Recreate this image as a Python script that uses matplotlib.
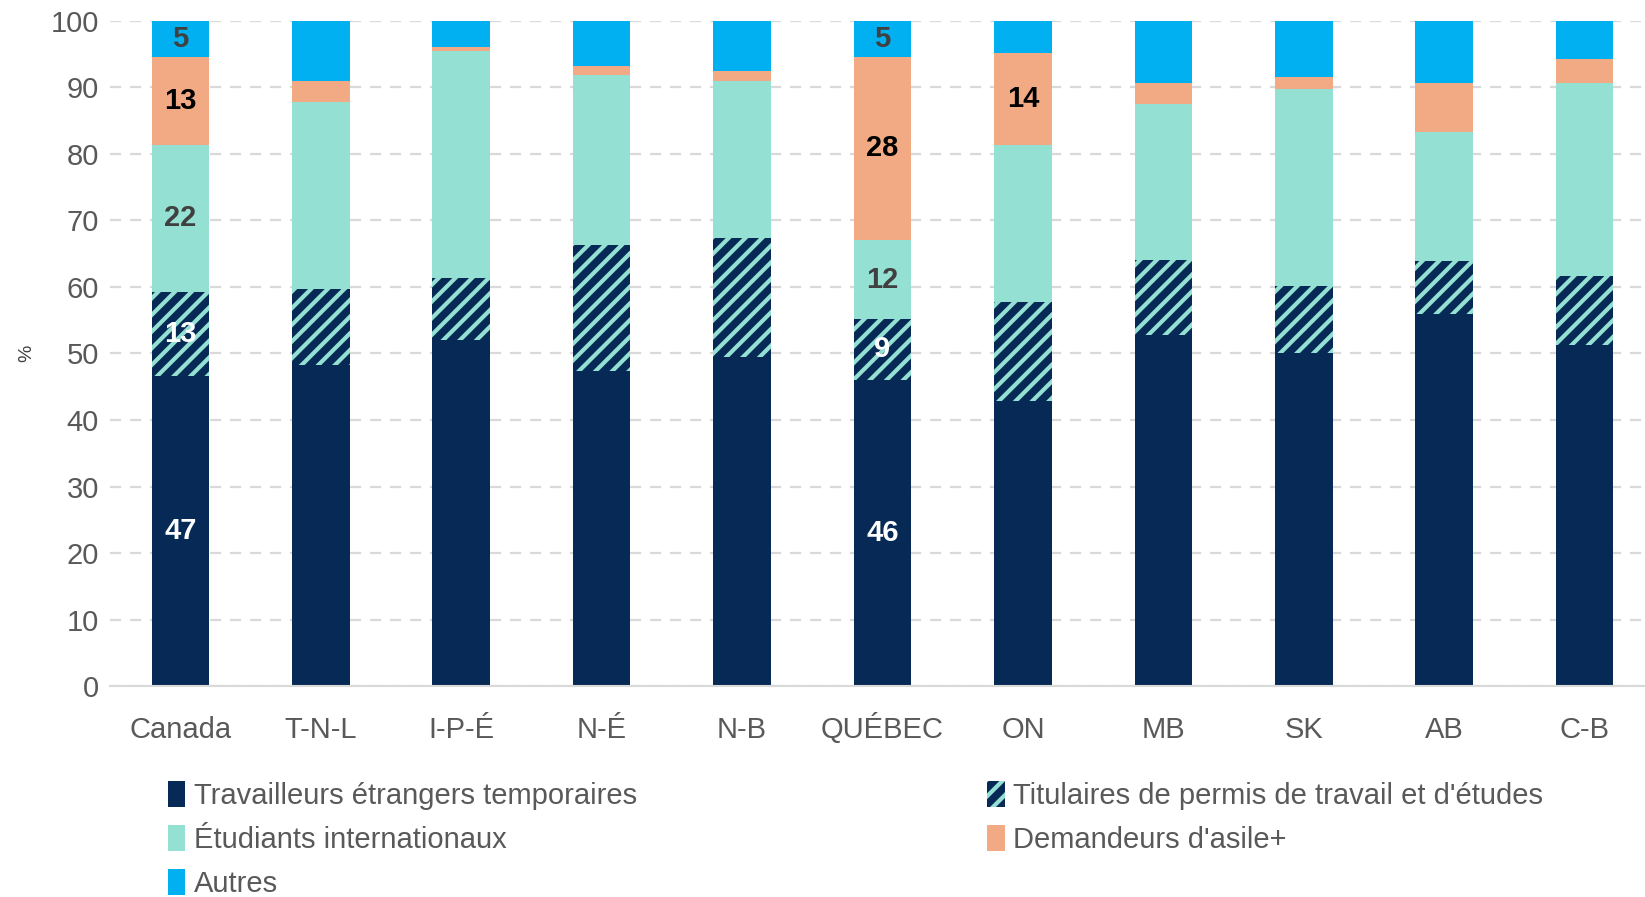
import matplotlib.pyplot as plt
import numpy as np

# Données (% par catégorie de résidents non permanents)
regions = ['Canada', 'T-N-L', 'I-P-É', 'N-É', 'N-B', 'QUÉBEC', 'ON', 'MB', 'SK', 'AB', 'C-B']
travailleurs = [46.6, 48.3, 52.0, 47.4, 49.5, 46.0, 42.8, 52.7, 50.0, 55.9, 51.2]
titulaires = [12.7, 11.4, 9.3, 18.9, 17.8, 9.2, 15.0, 11.3, 10.2, 8.0, 10.5]
etudiants = [22.0, 28.1, 34.2, 25.6, 23.7, 11.8, 23.5, 23.5, 29.6, 19.4, 29.0]
asile = [13.3, 3.1, 0.6, 1.3, 1.5, 27.6, 13.8, 3.1, 1.8, 7.4, 3.6]
autres = [5.4, 9.1, 3.9, 6.8, 7.5, 5.4, 4.9, 9.4, 8.4, 9.3, 5.7]

# étiquettes affichées par région
etiquettes = {
    'Canada': ['tet', 'tit', 'etu', 'asi', 'aut'],
    'QUÉBEC': ['tet', 'tit', 'etu', 'asi', 'aut'],
    'ON': ['asi'],
}

plt.rcParams['font.family'] = ['Liberation Sans', 'DejaVu Sans']
plt.rcParams['hatch.linewidth'] = 3.0

navy = '#062A55'
teal = '#94E1D4'
peach = '#F2AA84'
blue = '#00B0F0'

fig = plt.figure(figsize=(16.45, 8.97), dpi=100)
ax = fig.add_axes([0.067, 0.235, 0.933, 0.742])

x = np.arange(len(regions))
w = 0.41
series = [
    ('tet', travailleurs, dict(color=navy), 'white'),
    ('tit', titulaires, dict(facecolor=navy, edgecolor=teal, hatch='//', linewidth=0), 'white'),
    ('etu', etudiants, dict(color=teal), '#404040'),
    ('asi', asile, dict(color=peach), 'black'),
    ('aut', autres, dict(color=blue), '#404040'),
]
noms = {
    'tet': 'Travailleurs étrangers temporaires',
    'tit': "Titulaires de permis de travail et d'études",
    'etu': 'Étudiants internationaux',
    'asi': "Demandeurs d'asile+",
    'aut': 'Autres',
}

bottom = np.zeros(len(regions))
handles = {}
for key, vals, style, tcol in series:
    vals = np.array(vals)
    bars = ax.bar(x, vals, w, bottom=bottom, label=noms[key], zorder=2, **style)
    handles[key] = bars
    for i, r in enumerate(regions):
        if key in etiquettes.get(r, []):
            ax.text(x[i], bottom[i] + vals[i] / 2, f'{vals[i]:.0f}', ha='center', va='center',
                    fontsize=21, fontweight='bold', color=tcol, zorder=3)
    bottom += vals

ax.set_ylim(0, 100)
ax.set_xlim(-0.5, 10.43)
ax.set_yticks(range(0, 101, 10))
ax.set_xticks(x)
ax.set_xticklabels(regions, va='baseline')
ax.tick_params(axis='both', length=0, labelsize=21, colors='#595959')
ax.tick_params(axis='x', pad=37)
ax.tick_params(axis='y', pad=8)
ax.yaxis.grid(True, linestyle=(0, (5, 4)), color='#D9D9D9', linewidth=1.6, zorder=0)
ax.set_axisbelow(True)
for s in ['top', 'right', 'left']:
    ax.spines[s].set_visible(False)
ax.spines['bottom'].set_color('#D9D9D9')
ax.spines['bottom'].set_linewidth(1.5)
ax.set_ylabel('%', fontsize=14, color='#404040', labelpad=11)

ordre = ['tet', 'etu', 'aut', 'tit', 'asi']
leg = fig.legend([handles[k] for k in ordre], [noms[k] for k in ordre], ncol=2,
                 loc='upper left', bbox_to_anchor=(0.102, 0.129), frameon=False,
                 fontsize=21, handlelength=0.6, handleheight=1.0, handletextpad=0.3,
                 columnspacing=12, labelspacing=0.5, borderpad=0, borderaxespad=0)
for t in leg.get_texts():
    t.set_color('#595959')

plt.savefig('out.png', dpi=100)
